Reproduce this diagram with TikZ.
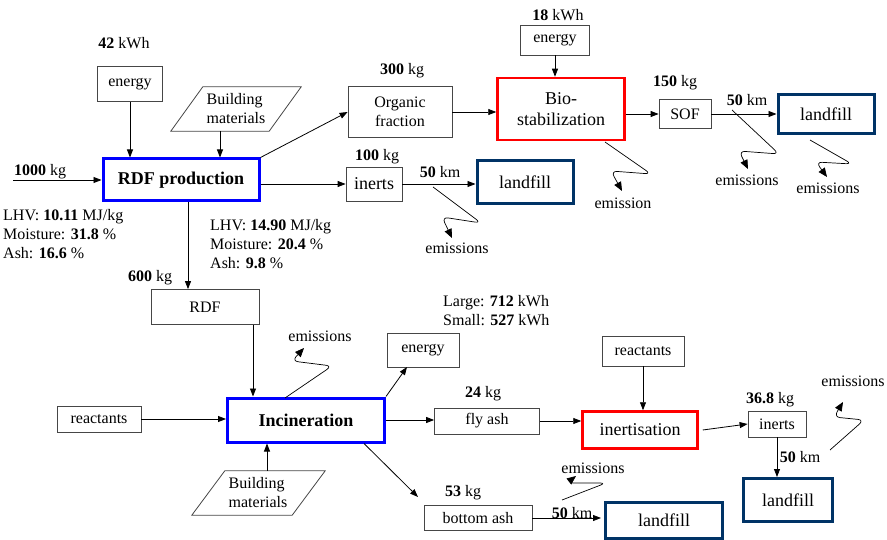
\documentclass[tikz,border=0pt]{standalone}
\usepackage{fontspec}
\setmainfont{Liberation Serif}
\usetikzlibrary{arrows.meta}

\definecolor{procblue}{RGB}{0,0,255}
\definecolor{procred}{RGB}{255,0,0}
\definecolor{fillnavy}{RGB}{0,51,102}
\definecolor{edgegray}{RGB}{70,70,70}

\begin{document}
\begin{tikzpicture}[x=1pt,y=-1pt,
  every node/.style={font=\fontsize{16}{19}\selectfont},
  box/.style={draw=edgegray,line width=0.8pt,inner sep=2pt},
  proc/.style={draw=procblue,line width=3pt,inner sep=2pt,font=\fontsize{18}{21}\selectfont\bfseries},
  treat/.style={draw=procred,line width=2.5pt,inner sep=2pt,font=\fontsize{18}{21}\selectfont},
  dump/.style={draw=fillnavy,line width=3pt,inner sep=2pt,font=\fontsize{18}{21}\selectfont},
  matl/.style={minimum width=98,minimum height=44,inner sep=0pt,align=left},
  slant/.style={draw=edgegray,line width=0.8pt},
  lbl/.style={inner sep=0pt},
  flow/.style={-{Triangle[length=8pt,width=6pt]},line width=0.8pt},
  emis/.style={-{Triangle[length=9pt,width=7.5pt]},line width=0.7pt,rounded corners=6pt}
]
\useasboundingbox (0,0) rectangle (887,540);

% RDF production
\node[box,minimum width=65,minimum height=35] (eRDF) at (130,84) {energy};
\node[lbl] (kwhRDF) at (124,43) {\textbf{42} kWh};
\node[matl] (bmRDF) at (236,109) {Building\\materials};
\draw[slant] ([xshift=16pt]bmRDF.north west) -- ([xshift=16pt]bmRDF.north east)
  -- ([xshift=-16pt]bmRDF.south east) -- ([xshift=-16pt]bmRDF.south west) -- cycle;
\node[proc,minimum width=156,minimum height=42] (rdfprod) at (181,180) {RDF production};
\node[lbl] (inKg) at (40,172) {\textbf{1000} kg};
\coordinate (inStart) at (13,180);
\node[lbl,anchor=west,align=left] (propIn) at (3,234) {LHV: \textbf{10.11} MJ/kg\\Moisture: \textbf{31.8} \%\\Ash: \textbf{16.6} \%};
\node[lbl,anchor=west,align=left] (propOut) at (210,244) {LHV: \textbf{14.90} MJ/kg\\Moisture: \textbf{20.4} \%\\Ash: \textbf{9.8} \%};

\draw[flow] (eRDF.south) -- (eRDF.south |- rdfprod.north);
\draw[flow] ([xshift=-16pt]bmRDF.south) -- ([xshift=-16pt]bmRDF.south |- rdfprod.north);
\draw[flow] (inStart) -- (rdfprod.west);

% organic fraction and bio-stabilization
\node[box,minimum width=104,minimum height=51,align=center] (orgfrac) at (400,112) {Organic\\fraction};
\node[lbl] (kgOrg) at (402,71) {\textbf{300} kg};
\node[treat,minimum width=127,minimum height=62,align=center] (biostab) at (561,109) {Bio-\\stabilization};
\node[box,minimum width=69,minimum height=30] (eBio) at (555,40) {energy};
\node[lbl] (kwhBio) at (558,15) {\textbf{18} kWh};
\node[box,minimum width=52,minimum height=29] (sof) at (685,114) {SOF};
\node[lbl] (kgSof) at (675,83) {\textbf{150} kg};
\node[dump,minimum width=96,minimum height=39] (lfSof) at (826,114) {landfill};
\node[lbl] (kmSof) at (747,100) {\textbf{50} km};

\draw[flow] (rdfprod.north east) -- (orgfrac.west);
\draw[flow] (orgfrac.east) -- (orgfrac.east -| biostab.west);
\draw[flow] (eBio.south) -- (eBio.south |- biostab.north);
\draw[flow] (sof.west -| biostab.east) -- (sof.west);
\draw[flow] (sof.east) -- (lfSof.west);

% inerts from RDF production
\node[box,minimum width=56,minimum height=34,font=\fontsize{18}{21}\selectfont] (inertsRDF) at (374,184) {inerts};
\node[lbl] (kgInerts) at (377,157) {\textbf{100} kg};
\node[dump,minimum width=96,minimum height=43] (lfInerts) at (525,182) {landfill};
\node[lbl] (kmInerts) at (440,172) {\textbf{50} km};

\draw[flow] (inertsRDF.west -| rdfprod.east) -- (inertsRDF.west);
\draw[flow] (inertsRDF.east) -- (inertsRDF.east -| lfInerts.west);

% emissions, upper part
\draw[emis] (433,187) -- (481,223) -- (442,217) -- (452,238);
\node[lbl] (emInerts) at (457,248) {emissions};
\draw[emis] (605,142) -- (651,174) -- (611,171) -- (622,191);
\node[lbl] (emBio) at (623,203) {emission};
\draw[emis] (732,110) -- (779,154) -- (739,151) -- (748,169);
\node[lbl] (emSof) at (747,180) {emissions};
\draw[emis] (810,140) -- (852,164) -- (816,162) -- (827,177);
\node[lbl] (emLfSof) at (828,188) {emissions};

% incineration
\node[box,minimum width=108,minimum height=35] (rdfbox) at (205,307) {RDF};
\node[lbl] (kgRdf) at (150,278) {\textbf{600} kg};
\node[proc,minimum width=157,minimum height=44] (incin) at (306,420) {Incineration};
\node[box,minimum width=84,minimum height=26] (reactInc) at (99,419) {reactants};
\node[matl,minimum width=100] (bmInc) at (258,493) {Building\\materials};
\draw[slant] ([xshift=17pt]bmInc.north west) -- ([xshift=17pt]bmInc.north east)
  -- ([xshift=-16pt]bmInc.south east) -- ([xshift=-16pt]bmInc.south west) -- cycle;
\node[box,minimum width=72,minimum height=34] (eInc) at (423,350) {energy};
\node[lbl,anchor=west,align=left] (kwhInc) at (443,311) {Large: \textbf{712} kWh\\Small: \textbf{527} kWh};
\coordinate (eIncIn) at (407,367);

\draw[flow] ([xshift=7pt]rdfprod.south) -- ([xshift=7pt]rdfprod.south |- rdfbox.north);
\draw[flow] ([xshift=48pt]rdfbox.south) -- ([xshift=48pt]rdfbox.south |- incin.north);
\draw[flow] (reactInc.east) -- (reactInc.east -| incin.west);
\draw[flow] ([xshift=9pt]bmInc.north) -- ([xshift=9pt]bmInc.north |- incin.south);
\draw[flow] (incin.north east) -- (eIncIn);

\draw[emis] (285,398) -- (332,366) -- (292,361) -- (304,348);
\node[lbl] (emInc) at (320,336) {emissions};

% fly ash line
\node[box,minimum width=105,minimum height=26] (flyash) at (487,421) {fly ash};
\node[lbl] (kgFly) at (483,394) {\textbf{24} kg};
\node[treat,minimum width=115,minimum height=37] (inertis) at (640,430) {inertisation};
\node[box,minimum width=82,minimum height=30] (reactIne) at (643,351) {reactants};
\node[box,minimum width=58,minimum height=26] (inertsIne) at (777,424) {inerts};
\node[lbl] (kgIne) at (770,400) {\textbf{36.8} kg};
\node[dump,minimum width=89,minimum height=43] (lfIne) at (788,500) {landfill};
\node[lbl] (kmIne) at (800,457) {\textbf{50} km};

\draw[flow] (incin.east) -- (incin.east -| flyash.west);
\draw[flow] (flyash.east) -- (flyash.east -| inertis.west);
\draw[flow] (reactIne.south) -- (reactIne.south |- inertis.north);
\draw[flow] ([xshift=4pt]inertis.east) -- (inertsIne.west);
\draw[flow] (inertsIne.south) -- (inertsIne.south |- lfIne.north);

\draw[emis] (830,450) -- (864,420) -- (834,417) -- (843,402);
\node[lbl] (emIne) at (853,381) {emissions};

% bottom ash line
\node[box,minimum width=108,minimum height=25] (botash) at (478,518) {bottom ash};
\node[lbl] (kgBot) at (463,493) {\textbf{53} kg};
\node[dump,minimum width=117,minimum height=36] (lfAsh) at (664,520) {landfill};
\node[lbl] (kmBot) at (572,513) {\textbf{50} km};
\coordinate (botIn) at (418,497);

\draw[flow] ([xshift=-22pt]incin.south east) -- (botIn);
\draw[flow] (botash.east) -- ([xshift=-3pt]botash.east -| lfAsh.west);

\draw[emis] (562,500) -- (606,483) -- (567,483) -- (576,476);
\node[lbl] (emBot) at (593,468) {emissions};
\end{tikzpicture}
\end{document}
